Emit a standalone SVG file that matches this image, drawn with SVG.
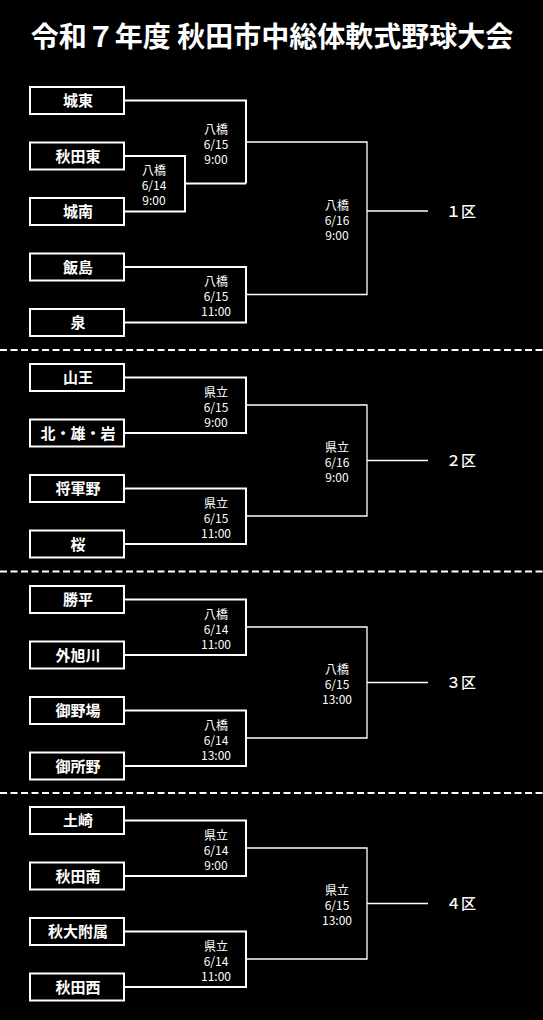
<svg xmlns="http://www.w3.org/2000/svg" width="543" height="1020" viewBox="0 0 543 1020">
<style>
.bg{fill:#000}
.box rect{fill:#000;stroke:#fff;stroke-width:2}
.team{font-family:"Noto Sans CJK JP","Noto Sans CJK SC",sans-serif;font-size:15px;font-weight:bold;fill:#fff;text-anchor:middle}
.info{font-family:"Noto Sans CJK JP","Noto Sans CJK SC",sans-serif;font-size:12px;fill:#fff;text-anchor:middle}
.zone{font-family:"Noto Sans CJK JP","Noto Sans CJK SC",sans-serif;font-size:15px;font-weight:500;fill:#fff;text-anchor:middle}
.title{font-family:"Noto Sans CJK JP","Noto Sans CJK SC",sans-serif;font-size:28px;font-weight:bold;fill:#fff;text-anchor:middle}
.r1{fill:none;stroke:#fff;stroke-width:2}
.r2{fill:none;stroke:#fff;stroke-width:1.3}
.sep{stroke:#fff;stroke-width:2;stroke-dasharray:7 3.5}
</style>
<rect class="bg" x="0" y="0" width="543" height="1020"/>
<text id="title" class="title" x="272" y="47">令和７年度 秋田市中総体軟式野球大会</text>

<g id="separators">
<line class="sep" x1="0" y1="350" x2="543" y2="350"/>
<line class="sep" x1="0" y1="571.5" x2="543" y2="571.5"/>
<line class="sep" x1="0" y1="793" x2="543" y2="793"/>
</g>

<g id="connectors">
<!-- Section 1 -->
<path class="r1" d="M125,156 H185 V211.5 H125 M185,183.5 H246"/>
<path class="r1" d="M125,100.5 H246 V183.5"/>
<path class="r1" d="M125,267 H246 V322.5 H125"/>
<path class="r2" d="M246,142 H367 V294.5 H246 M367,211 H428"/>
<!-- Section 2 -->
<path class="r1" d="M125,377.5 H246 V433 H125"/>
<path class="r1" d="M125,488.5 H246 V544 H125"/>
<path class="r2" d="M246,405 H367 V516 H246 M367,460.5 H428"/>
<!-- Section 3 -->
<path class="r1" d="M125,599.5 H246 V655 H125"/>
<path class="r1" d="M125,710.5 H246 V766 H125"/>
<path class="r2" d="M246,627 H367 V738 H246 M367,682.5 H428"/>
<!-- Section 4 -->
<path class="r1" d="M125,820.5 H246 V876 H125"/>
<path class="r1" d="M125,931.5 H246 V987 H125"/>
<path class="r2" d="M246,848 H367 V959 H246 M367,903.5 H428"/>
</g>

<g id="teams">
<g id="t-joto" class="box"><rect x="30" y="87" width="94" height="27"/><text class="team" x="78" y="106">城東</text></g>
<g id="t-akitahigashi" class="box"><rect x="30" y="142.5" width="94" height="27"/><text class="team" x="78" y="161.5">秋田東</text></g>
<g id="t-jonan" class="box"><rect x="30" y="198" width="94" height="27"/><text class="team" x="78" y="217">城南</text></g>
<g id="t-iijima" class="box"><rect x="30" y="253.5" width="94" height="27"/><text class="team" x="78" y="272.5">飯島</text></g>
<g id="t-izumi" class="box"><rect x="30" y="309" width="94" height="27"/><text class="team" x="78" y="328">泉</text></g>

<g id="t-sanno" class="box"><rect x="30" y="364" width="94" height="27"/><text class="team" x="78" y="383">山王</text></g>
<g id="t-kitayuiwa" class="box"><rect x="30" y="419.5" width="94" height="27"/><text class="team" x="78" y="438.5">北・雄・岩</text></g>
<g id="t-shogunno" class="box"><rect x="30" y="475" width="94" height="27"/><text class="team" x="78" y="494">将軍野</text></g>
<g id="t-sakura" class="box"><rect x="30" y="530.5" width="94" height="27"/><text class="team" x="78" y="549.5">桜</text></g>

<g id="t-katsuhira" class="box"><rect x="30" y="586" width="94" height="27"/><text class="team" x="78" y="605">勝平</text></g>
<g id="t-sotoasahikawa" class="box"><rect x="30" y="641.5" width="94" height="27"/><text class="team" x="78" y="660.5">外旭川</text></g>
<g id="t-onoba" class="box"><rect x="30" y="697" width="94" height="27"/><text class="team" x="78" y="716">御野場</text></g>
<g id="t-goshono" class="box"><rect x="30" y="752.5" width="94" height="27"/><text class="team" x="78" y="771.5">御所野</text></g>

<g id="t-tsuchizaki" class="box"><rect x="30" y="807" width="94" height="27"/><text class="team" x="78" y="826">土崎</text></g>
<g id="t-akitaminami" class="box"><rect x="30" y="862.5" width="94" height="27"/><text class="team" x="78" y="881.5">秋田南</text></g>
<g id="t-akidaifuzoku" class="box"><rect x="30" y="918" width="94" height="27"/><text class="team" x="78" y="937">秋大附属</text></g>
<g id="t-akitanishi" class="box"><rect x="30" y="973.5" width="94" height="27"/><text class="team" x="78" y="992.5">秋田西</text></g>
</g>

<g id="games">
<g id="g1a"><text class="info" x="216" y="133.5">八橋</text><text class="info" x="216" y="148.5">6/15</text><text class="info" x="216" y="163.5">9:00</text></g>
<g id="g1i"><text class="info" x="154" y="175">八橋</text><text class="info" x="154" y="190">6/14</text><text class="info" x="154" y="205">9:00</text></g>
<g id="g1b"><text class="info" x="216" y="286">八橋</text><text class="info" x="216" y="301">6/15</text><text class="info" x="216" y="316">11:00</text></g>
<g id="g1f"><text class="info" x="337" y="210">八橋</text><text class="info" x="337" y="225">6/16</text><text class="info" x="337" y="240">9:00</text></g>

<g id="g2a"><text class="info" x="216" y="396.5">県立</text><text class="info" x="216" y="411.5">6/15</text><text class="info" x="216" y="426.5">9:00</text></g>
<g id="g2b"><text class="info" x="216" y="507.5">県立</text><text class="info" x="216" y="522.5">6/15</text><text class="info" x="216" y="537.5">11:00</text></g>
<g id="g2f"><text class="info" x="337" y="451.5">県立</text><text class="info" x="337" y="466.5">6/16</text><text class="info" x="337" y="481.5">9:00</text></g>

<g id="g3a"><text class="info" x="216" y="618.5">八橋</text><text class="info" x="216" y="633.5">6/14</text><text class="info" x="216" y="648.5">11:00</text></g>
<g id="g3b"><text class="info" x="216" y="729.5">八橋</text><text class="info" x="216" y="744.5">6/14</text><text class="info" x="216" y="759.5">13:00</text></g>
<g id="g3f"><text class="info" x="337" y="673.5">八橋</text><text class="info" x="337" y="688.5">6/15</text><text class="info" x="337" y="703.5">13:00</text></g>

<g id="g4a"><text class="info" x="216" y="839.5">県立</text><text class="info" x="216" y="854.5">6/14</text><text class="info" x="216" y="869.5">9:00</text></g>
<g id="g4b"><text class="info" x="216" y="950.5">県立</text><text class="info" x="216" y="965.5">6/14</text><text class="info" x="216" y="980.5">11:00</text></g>
<g id="g4f"><text class="info" x="337" y="894.5">県立</text><text class="info" x="337" y="909.5">6/15</text><text class="info" x="337" y="924.5">13:00</text></g>
</g>

<g id="zones">
<text id="z1" class="zone" x="461" y="216.5">１区</text>
<text id="z2" class="zone" x="461" y="466">２区</text>
<text id="z3" class="zone" x="461" y="688">３区</text>
<text id="z4" class="zone" x="461" y="909">４区</text>
</g>
</svg>
